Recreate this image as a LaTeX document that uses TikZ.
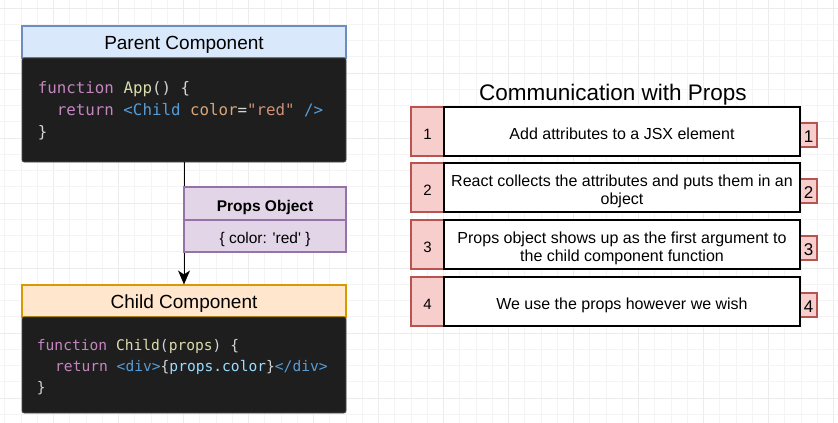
\documentclass[tikz,border=0pt]{standalone}
\usepackage{fontspec}
\setmainfont{Liberation Sans}
\setmonofont{DejaVu Sans Mono}
\usetikzlibrary{arrows.meta}
\definecolor{gridminor}{HTML}{F4F4F4}
\definecolor{gridmajor}{HTML}{ECECEC}
\definecolor{pblue}{HTML}{DAE8FC}
\definecolor{pbluedraw}{HTML}{6C8EBF}
\definecolor{ppurple}{HTML}{E1D5E7}
\definecolor{ppurpledraw}{HTML}{9673A6}
\definecolor{porange}{HTML}{FFE6CC}
\definecolor{porangedraw}{HTML}{D79B00}
\definecolor{pred}{HTML}{F8CECC}
\definecolor{preddraw}{HTML}{B85450}
\definecolor{codebg}{HTML}{1E1E1E}
\definecolor{kw}{HTML}{C586C0}
\definecolor{fn}{HTML}{DCDCAA}
\definecolor{pn}{HTML}{D4D4D4}
\definecolor{tag}{HTML}{569CD6}
\definecolor{attr}{HTML}{D7A57A}
\definecolor{str}{HTML}{CE9178}
\definecolor{var}{HTML}{9CDCFE}
\newcommand\lowr[2]{\raisebox{-#1}[\height][\depth]{#2}}
\newcommand\rowtext[1]{\lowr{4.5pt}{\begin{tabular}{@{}c@{}}#1\end{tabular}}}
\begin{document}
\begin{tikzpicture}[x=1pt,y=-1pt,
  hdr/.style={draw, line width=1.1pt, inner sep=0pt, font=\fontsize{19}{23}\selectfont},
  codebox/.style={draw=gray!60!black, line width=0.6pt, fill=codebg, rounded corners=2pt, inner sep=0pt, minimum width=324pt},
  codeA/.style={anchor=base west, inner sep=0pt, font=\ttfamily\fontsize{15.8}{19}\selectfont},
  codeB/.style={anchor=base west, inner sep=0pt, font=\ttfamily\fontsize{14.6}{18}\selectfont},
  numbox/.style={draw=preddraw, fill=pred, line width=1.1pt, inner sep=0pt, minimum width=33pt, minimum height=49pt, font=\fontsize{15}{18}\selectfont},
  smallbox/.style={draw=preddraw, fill=pred, line width=1.1pt, inner sep=0pt, minimum width=17pt, minimum height=24pt, font=\fontsize{17}{20}\selectfont},
  rowbox/.style={draw=black, fill=white, line width=1.4pt, inner sep=0pt, minimum width=356pt, minimum height=49pt, font=\fontsize{16}{18.3}\selectfont},
  flow/.style={draw=black, line width=1pt, -{Stealth[length=14pt,width=12pt,inset=4pt]}}
]
\useasboundingbox (0,0) rectangle (838,423);
% background grid
\foreach \k in {0,...,51}{
  \pgfmathsetmacro{\gx}{4.55+16.25*\k}
  \pgfmathtruncatemacro{\gm}{mod(\k,4)}
  \ifnum\gm=3 \draw[gridmajor, line width=0.6pt] (\gx,0) -- (\gx,423);
  \else \draw[gridminor, line width=0.6pt] (\gx,0) -- (\gx,423); \fi
}
\foreach \k in {0,...,25}{
  \pgfmathsetmacro{\gy}{8+16.25*\k}
  \pgfmathtruncatemacro{\gm}{mod(\k,4)}
  \ifnum\gm=0 \draw[gridmajor, line width=0.6pt] (0,\gy) -- (838,\gy);
  \else \draw[gridminor, line width=0.6pt] (0,\gy) -- (838,\gy); \fi
}
% parent
\node[hdr, draw=pbluedraw, fill=pblue, minimum width=324pt, minimum height=32pt] (phead) at (184,42) {\lowr{2.5pt}{Parent Component}};
\node[codebox, minimum height=104pt] (pcode) at (184,110) {};
\node[codeA] (pl1) at (37.7,93) {\textcolor{kw}{function} \textcolor{fn}{App}\textcolor{pn}{() \{}};
\node[codeA] (pl2) at (56.7,115) {\textcolor{kw}{return} \textcolor{tag}{<Child} \textcolor{attr}{color}\textcolor{pn}{=}\textcolor{str}{"red"} \textcolor{tag}{/>}};
\node[codeA] (pl3) at (37.7,137) {\textcolor{pn}{\}}};
% child
\node[hdr, draw=porangedraw, fill=porange, minimum width=324pt, minimum height=32pt] (chead) at (184,301) {\lowr{3pt}{Child Component}};
\node[codebox, minimum height=96pt] (ccode) at (184,365) {};
\node[codeB] (cl1) at (36.7,350) {\textcolor{kw}{function} \textcolor{fn}{Child}\textcolor{pn}{(}\textcolor{fn}{props}\textcolor{pn}{) \{}};
\node[codeB] (cl2) at (55,371) {\textcolor{kw}{return} \textcolor{tag}{<div>}\textcolor{pn}{\{}\textcolor{var}{props.color}\textcolor{pn}{\}}\textcolor{tag}{</div>}};
\node[codeB] (cl3) at (36.7,392) {\textcolor{pn}{\}}};
% arrow
\draw[flow] (pcode.south) -- (chead.north);
% props object
\node[hdr, draw=ppurpledraw, fill=ppurple, minimum width=162pt, minimum height=33pt, font=\bfseries\fontsize{15.5}{18}\selectfont] (poh) at (265,203.5) {\lowr{3.5pt}{Props Object}};
\node[hdr, draw=ppurpledraw, fill=ppurple, minimum width=162pt, minimum height=32pt, font=\fontsize{15.5}{18}\selectfont] (pob) at (265,236) {\lowr{3.5pt}{\{ color: \textquotesingle red\textquotesingle\ \}}};
% title
\node[inner sep=0pt, font=\fontsize{22.5}{27}\selectfont] (title) at (613,93) {\lowr{1.5pt}{Communication with Props}};
% rows
\node[numbox] (n1) at (427.5,131.5) {\lowr{3pt}{1}};
\node[smallbox] (s1) at (808.5,135) {\lowr{2pt}{1}};
\node[rowbox] (t1) at (622,131.5) {\rowtext{Add attributes to a JSX element}};
\node[numbox] (n2) at (427.5,187.5) {\lowr{3pt}{2}};
\node[smallbox] (s2) at (808.5,191) {\lowr{2pt}{2}};
\node[rowbox] (t2) at (622,187.5) {\rowtext{React collects the attributes and puts them in an\\object}};
\node[numbox] (n3) at (427.5,244.5) {\lowr{3pt}{3}};
\node[smallbox] (s3) at (808.5,248) {\lowr{2pt}{3}};
\node[rowbox] (t3) at (622,244.5) {\rowtext{Props object shows up as the first argument to\\the child component function}};
\node[numbox] (n4) at (427.5,301.5) {\lowr{3pt}{4}};
\node[smallbox] (s4) at (808.5,305) {\lowr{2pt}{4}};
\node[rowbox] (t4) at (622,301.5) {\rowtext{We use the props however we wish}};
\end{tikzpicture}
\end{document}
